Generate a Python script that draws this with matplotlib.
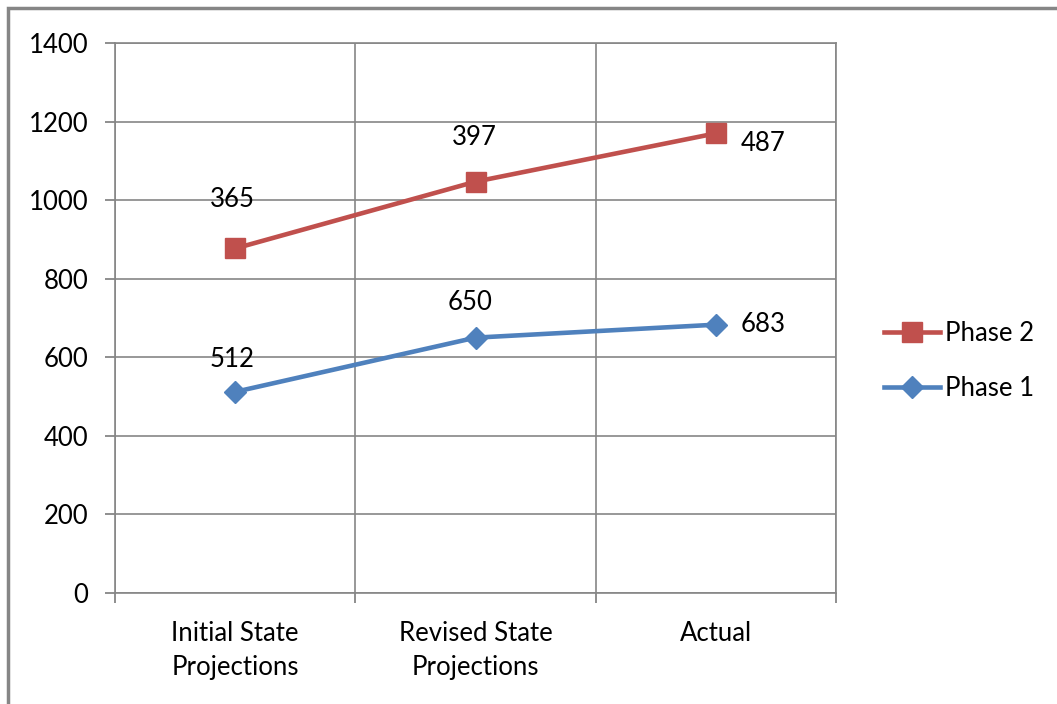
import matplotlib.pyplot as plt
import matplotlib.patches as patches
import numpy as np

# stacked line chart data
categories = ["Initial State\nProjections", "Revised State\nProjections", "Actual"]
phase1 = [512, 650, 683]
phase2 = [365, 397, 487]

plt.rcParams['font.family'] = ['Lato', 'DejaVu Sans']

fig = plt.figure(figsize=(10.57, 7.04), dpi=100)
ax = fig.add_axes([115 / 1057, 111 / 704, 721 / 1057, 550 / 704])

x = np.arange(len(categories))
p1 = np.array(phase1)
p2 = p1 + np.array(phase2)

ax.plot(x, p2, color="#C0504D", lw=3.3, marker="s", ms=14, label="Phase 2", zorder=3)
ax.plot(x, p1, color="#4F81BD", lw=3.3, marker="D", ms=11, label="Phase 1", zorder=3)

# data labels show each phase's own value (offsets in points)
off2 = [(-2, 35), (-1, 32), (18, -7)]
off1 = [(-2, 23), (-4, 25), (18, 0)]
for i in range(len(x)):
  ha = "left" if i == 2 else "center"
  ax.annotate(str(phase2[i]), (x[i], p2[i]), xytext=off2[i],
              textcoords="offset points", ha=ha, va="center", fontsize=18.5)
  ax.annotate(str(phase1[i]), (x[i], p1[i]), xytext=off1[i],
              textcoords="offset points", ha=ha, va="center", fontsize=18.5)

ax.set_xlim(-0.5, 2.5)
ax.set_ylim(0, 1400)
ax.set_yticks(np.arange(0, 1401, 200))
ax.set_xticks(x)
ax.set_xticklabels(categories, fontsize=18.5, linespacing=1.45)
ax.set_xticks([-0.5, 0.5, 1.5, 2.5], minor=True)
ax.tick_params(axis="x", which="major", length=0, pad=20)
ax.tick_params(axis="x", which="minor", length=7, color="#868686", width=1.3)
ax.tick_params(axis="y", length=7, color="#868686", width=1.3, labelsize=18.5, pad=12)

ax.grid(axis="y", color="#868686", lw=1.2)
ax.grid(axis="x", which="minor", color="#868686", lw=1.2)
ax.set_axisbelow(True)
for s in ax.spines.values():
  s.set_color("#868686")
  s.set_linewidth(1.2)

# legend order: Phase 2 on top
leg = ax.legend(loc="center left", bbox_to_anchor=(1.066, 0.422), frameon=False,
                borderaxespad=0, borderpad=0,
                fontsize=18.5, handlelength=2.2, handletextpad=0.2, labelspacing=1.15)

# outer chart frame
fig.patches.append(patches.Rectangle((8 / 1057, -0.1), 1.2, (704 - 8) / 704 + 0.1,
                                     transform=fig.transFigure, fill=False,
                                     edgecolor="#868686", lw=2.5))

fig.savefig("out.png", dpi=100)
